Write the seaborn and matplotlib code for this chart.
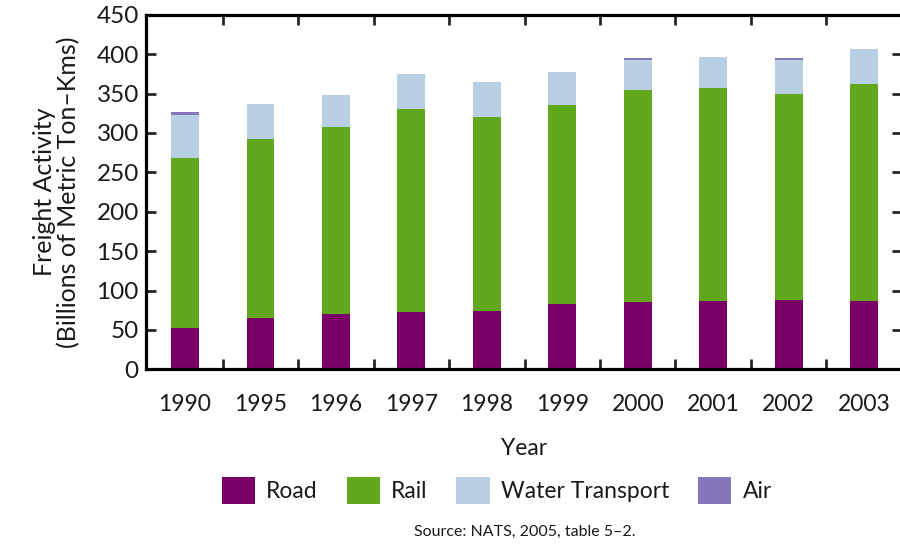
import matplotlib
matplotlib.use("Agg")
import matplotlib.pyplot as plt
import seaborn as sns
import numpy as np
from matplotlib.ticker import FixedLocator

years = ["1990", "1995", "1996", "1997", "1998", "1999", "2000", "2001", "2002", "2003"]
road = [52, 65, 70, 73, 74, 83, 85, 87, 88, 87]
rail = [216, 227, 238, 257, 246, 252, 270, 270, 261, 275]
water = [55, 45, 40, 45, 45, 43, 37, 40, 43, 45]
air = [4, 0, 0, 0, 0, 0, 3, 0, 3, 0]

series_names = ["Road", "Rail", "Water Transport", "Air"]
series_colors = ["#7a0068", "#62a81d", "#b9cfe4", "#8577b9"]

sns.set_style("white")
plt.rcParams["font.family"] = ["Lato", "DejaVu Sans"]
text_color = "#1a1a1a"

fig = plt.figure(figsize=(9, 5.48), dpi=100)
ax = fig.add_axes([0.162, 0.326, 0.84, 0.647])

# stacked bars, one seaborn call per layer
bottom = np.zeros(len(years))
for name, vals, col in zip(series_names, [road, rail, water, air], series_colors):
    sns.barplot(x=years, y=vals, bottom=bottom, color=col, width=0.37,
                label=name, ax=ax, saturation=1, linewidth=0)
    bottom = bottom + np.array(vals)

ax.set_xlim(-0.52, 9.5)
ax.set_ylim(0, 450)
ax.set_yticks(range(0, 451, 50))

for side in ["left", "right", "top", "bottom"]:
    ax.spines[side].set_visible(True)
    ax.spines[side].set_linewidth(2.3)
    ax.spines[side].set_color("black")

ax.tick_params(axis="y", which="major", direction="in", length=7, width=2,
               left=True, right=True, labelsize=17.5, labelcolor=text_color, pad=5)
ax.tick_params(axis="x", which="major", length=0, labelsize=16.5,
               labelcolor=text_color, pad=18)
ax.xaxis.set_minor_locator(FixedLocator(np.arange(0.5, 9, 1)))
ax.tick_params(axis="x", which="minor", direction="in", length=7, width=2,
               top=True, bottom=True)

ax.set_xlabel("Year", fontsize=16.5, color=text_color, labelpad=16)
ax.set_ylabel("Freight Activity\n(Billions of Metric Ton\u2013Kms)", fontsize=18,
              color=text_color, labelpad=12, linespacing=1.05)

handles, labels = ax.get_legend_handles_labels()
if ax.get_legend() is not None:
    ax.get_legend().remove()
fig.legend(handles, labels, loc="center", bbox_to_anchor=(0.552, 0.105), ncol=4,
           frameon=False, fontsize=16.5, handlelength=1.45, handleheight=1.45,
           columnspacing=1.25, handletextpad=0.5, labelcolor=text_color)

fig.text(0.583, 0.03, "Source: NATS, 2005, table 5\u20132.", ha="center",
         va="center", fontsize=11.5, color=text_color)

fig.savefig("out.png", dpi=100)
